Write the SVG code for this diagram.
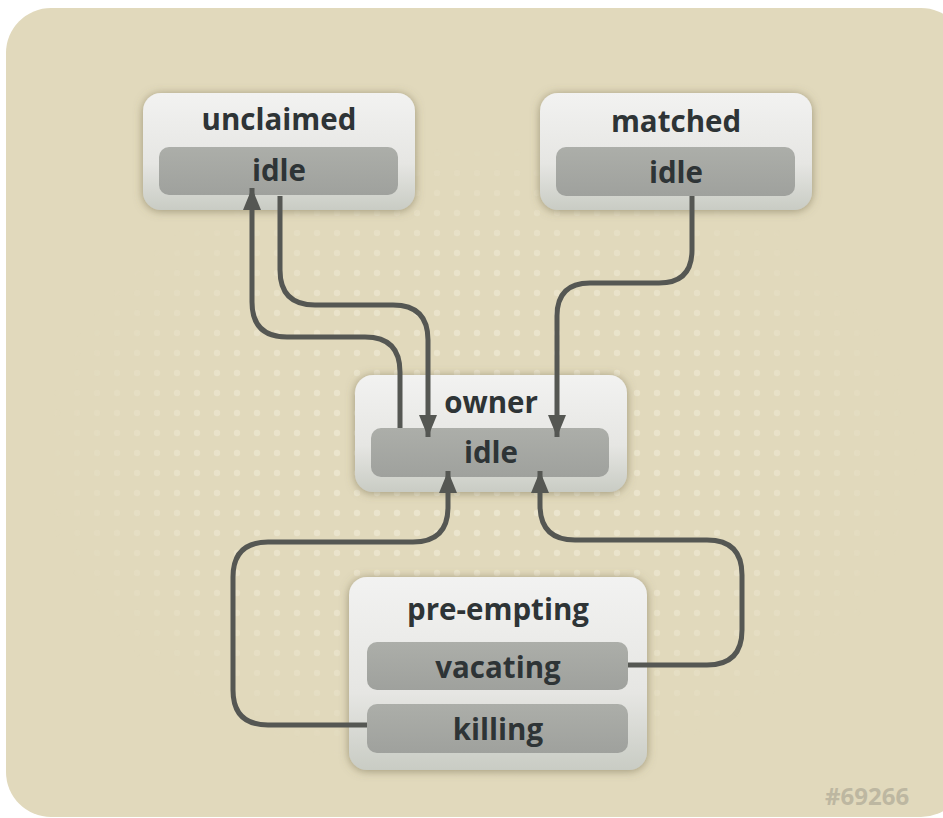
<svg xmlns="http://www.w3.org/2000/svg" width="943" height="818" viewBox="0 0 943 818">
  <defs>
    <style>
      .title { font-family: "Open Sans", "Noto Sans", "DejaVu Sans", sans-serif; font-weight: bold; font-size: 29.5px; fill: #2e3436; text-anchor: middle; }
      .outer { fill: url(#outerGrad); filter: url(#shadow); }
      .inner { fill: url(#innerGrad); }
      .conn { fill: none; stroke: #555753; stroke-width: 5; stroke-linejoin: round; }
      .stamp { font-family: "Open Sans", "Noto Sans", "DejaVu Sans", sans-serif; font-weight: bold; font-size: 24px; fill: #bdb7a1; }
    </style>
    <linearGradient id="outerGrad" x1="0" y1="0" x2="0" y2="1">
      <stop offset="0" stop-color="#f2f2f1"/>
      <stop offset="0.6" stop-color="#e6e6e3"/>
      <stop offset="1" stop-color="#c9ccc4"/>
    </linearGradient>
    <linearGradient id="innerGrad" x1="0" y1="0" x2="0" y2="1">
      <stop offset="0" stop-color="#acaea9"/>
      <stop offset="1" stop-color="#9fa19d"/>
    </linearGradient>
    <filter id="shadow" x="-20%" y="-20%" width="140%" height="140%">
      <feDropShadow dx="0" dy="1" stdDeviation="5" flood-color="#6f6848" flood-opacity="0.6"/>
    </filter>
    <pattern id="dots" x="7" y="3" width="20" height="20" patternUnits="userSpaceOnUse">
      <circle cx="10" cy="10" r="3.2" fill="#f1ecd8"/>
    </pattern>
    <radialGradient id="fade" cx="0.5" cy="0.5" r="0.5">
      <stop offset="0" stop-color="#fff" stop-opacity="0.7"/>
      <stop offset="0.65" stop-color="#fff" stop-opacity="0.5"/>
      <stop offset="1" stop-color="#fff" stop-opacity="0"/>
    </radialGradient>
    <mask id="dotMask">
      <rect x="40" y="140" width="880" height="640" fill="url(#fade)"/>
    </mask>
    <marker id="arrow" viewBox="0 0 22 18" refX="22" refY="9" markerWidth="22" markerHeight="18" markerUnits="userSpaceOnUse" orient="auto">
      <path d="M0,0 L22,9 L0,18 Z" fill="#555753"/>
    </marker>
  </defs>

  <rect x="0" y="0" width="943" height="818" fill="#ffffff"/>
  <rect x="6" y="8" width="960" height="809" rx="45" fill="#e1d9bc"/>
  <rect x="40" y="140" width="880" height="640" fill="url(#dots)" mask="url(#dotMask)"/>

  <g id="node-unclaimed">
    <rect class="outer" x="143" y="93" width="272" height="117" rx="18"/>
    <text class="title" x="279" y="130">unclaimed</text>
    <rect class="inner" x="159" y="147" width="239" height="48" rx="10"/>
    <text class="title" x="279" y="181">idle</text>
  </g>

  <g id="node-matched">
    <rect class="outer" x="540" y="93" width="272" height="117" rx="18"/>
    <text class="title" x="676" y="132">matched</text>
    <rect class="inner" x="556" y="147" width="239" height="49" rx="10"/>
    <text class="title" x="676" y="183">idle</text>
  </g>

  <g id="node-owner">
    <rect class="outer" x="355" y="375" width="272" height="117" rx="18"/>
    <text class="title" x="491" y="413">owner</text>
    <rect class="inner" x="371" y="428" width="238" height="49" rx="10"/>
    <text class="title" x="491" y="463">idle</text>
  </g>

  <g id="node-preempting">
    <rect class="outer" x="349" y="577" width="298" height="193" rx="18"/>
    <text class="title" x="498" y="620">pre-empting</text>
    <rect class="inner" x="367" y="642" width="261" height="48" rx="10"/>
    <text class="title" x="498" y="678">vacating</text>
    <rect class="inner" x="367" y="704" width="261" height="49" rx="10"/>
    <text class="title" x="498" y="740">killing</text>
  </g>

  <g id="connectors">
    <path class="conn" marker-end="url(#arrow)" d="M400,428 V372 Q400,337 365,337 H287 Q252,337 252,302 V188"/>
    <path class="conn" marker-end="url(#arrow)" d="M280,196 V270 Q280,305 315,305 H393 Q428,305 428,340 V437"/>
    <path class="conn" marker-end="url(#arrow)" d="M692,196 V250 Q692,283 659,283 H590 Q557,283 557,316 V437"/>
    <path class="conn" marker-end="url(#arrow)" d="M367,725 H268 Q233,725 233,690 V577 Q233,542 268,542 H413 Q448,542 448,507 V471"/>
    <path class="conn" marker-end="url(#arrow)" d="M628,665 H707 Q742,665 742,630 V575 Q742,540 707,540 H575 Q540,540 540,505 V471"/>
  </g>

  <text class="stamp" x="825" y="805">#69266</text>
</svg>
